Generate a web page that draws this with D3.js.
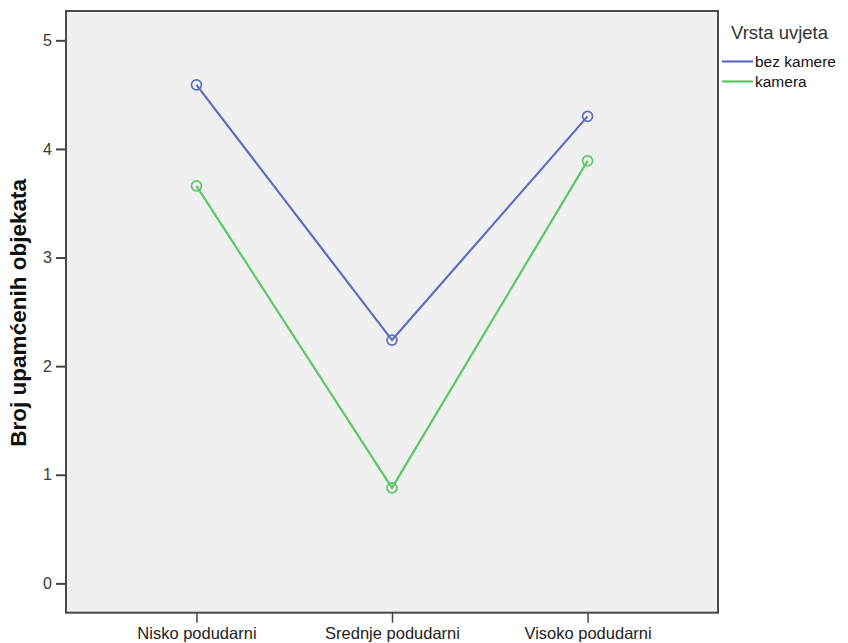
<!DOCTYPE html>
<html><head><meta charset="utf-8">
<script src="https://cdn.jsdelivr.net/npm/d3@7"></script>
<style>body{margin:0;background:#fff}svg{display:block;font-family:"Liberation Sans",Arial,sans-serif}</style>
</head><body><svg id="c" width="848" height="643"></svg>
<script>
const categories = ["Nisko podudarni", "Srednje podudarni", "Visoko podudarni"];
const seriesNames = ["bez kamere", "kamera"];
const bezKamere = [4.59, 2.24, 4.30];
const kamera = [3.66, 0.88, 3.89];
const yTicks = [0, 1, 2, 3, 4, 5];
const legendTitle = "Vrsta uvjeta";
const yTitle = "Broj upamćenih objekata";

const colors = ["#5b6fc2", "#5cc765"];
const series = [bezKamere, kamera];
const svg = d3.select("#c");
const L = 66, R = 718, T = 11, B = 612.7;

const x = d3.scalePoint().domain(categories).range([L, R]).padding(0.667);
const y = d3.scaleLinear().domain([-0.27, 5.27]).range([B, T]);

svg.append("rect").attr("x", L).attr("y", T).attr("width", R - L).attr("height", B - T)
  .attr("fill", "#f0f0f0").attr("stroke", "#4a4a4a").attr("stroke-width", 2);

const yAxis = svg.append("g").attr("transform", `translate(${L},0)`)
  .call(d3.axisLeft(y).tickValues(yTicks).tickSize(10).tickPadding(4).tickFormat(d3.format("d")));
yAxis.select(".domain").remove();
yAxis.selectAll("line").attr("stroke", "#444").attr("stroke-width", 2);
yAxis.selectAll("text").attr("font-size", 16).attr("fill", "#3a3a3a").attr("font-family", "Liberation Sans, Arial");

const xAxis = svg.append("g").attr("transform", `translate(0,${B})`)
  .call(d3.axisBottom(x).tickSize(10).tickPadding(5));
xAxis.select(".domain").remove();
xAxis.selectAll("line").attr("stroke", "#444").attr("stroke-width", 1.5);
xAxis.selectAll("text").attr("font-size", 16.5).attr("fill", "#222").attr("font-family", "Liberation Sans, Arial");

const line = d3.line().x((d, i) => x(categories[i])).y(d => y(d));
series.forEach((s, k) => {
  svg.append("path").datum(s).attr("d", line).attr("fill", "none")
    .attr("stroke", colors[k]).attr("stroke-width", 2.2);
  svg.selectAll(null).data(s).enter().append("circle")
    .attr("cx", (d, i) => x(categories[i])).attr("cy", d => y(d)).attr("r", 5)
    .attr("fill", "none").attr("stroke", colors[k]).attr("stroke-width", 1.7);
});

svg.append("text").attr("transform", `translate(26,${(T + B) / 2 + 1}) rotate(-90)`)
  .attr("text-anchor", "middle").attr("font-size", 22.5).attr("font-weight", "bold")
  .attr("fill", "#111").text(yTitle);

svg.append("text").attr("x", 731).attr("y", 39).attr("font-size", 18.5).attr("fill", "#333").text(legendTitle);
seriesNames.forEach((n, k) => {
  const yy = 61.5 + k * 20;
  svg.append("line").attr("x1", 722).attr("x2", 753).attr("y1", yy).attr("y2", yy)
    .attr("stroke", colors[k]).attr("stroke-width", 2.2);
  svg.append("text").attr("x", 755).attr("y", yy + 5.5).attr("font-size", 15.5).attr("fill", "#111").text(n);
});
</script></body></html>
